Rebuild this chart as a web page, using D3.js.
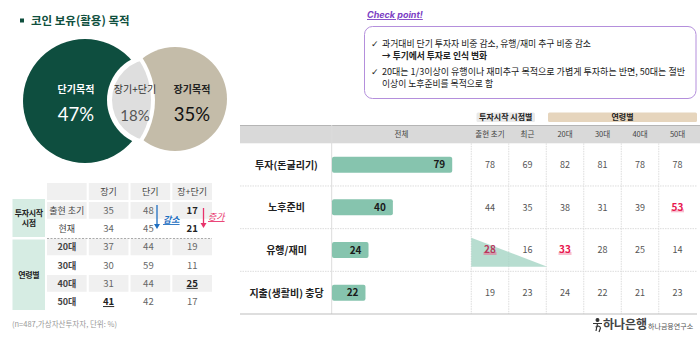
<!DOCTYPE html>
<html><head><meta charset="utf-8">
<script src="https://cdn.jsdelivr.net/npm/d3@7/dist/d3.min.js"></script>
<style>body{margin:0;background:#fff}svg{display:block;font-family:"Noto Sans CJK KR","Noto Sans",sans-serif}</style>
</head><body><svg id="c" width="700" height="339"></svg>
<script>
// ---- data ----
const vennLabels = ["단기목적", "장기+단기", "장기목적"];
const vennValues = [47, 18, 35];

const leftCols = ["장기", "단기", "장+단기"];
const leftRows = ["출현 초기", "현재", "20대", "30대", "40대", "50대"];
const leftGroups = [["투자시작", "시점"], ["연령별"]];
const longVals = [35, 34, 37, 30, 31, 41];
const shortVals = [48, 45, 44, 59, 44, 42];
const bothVals = [17, 21, 19, 11, 25, 17];

const checkTitle = "Check point!";
const checkLines = [
  "과거대비 단기 투자자 비중 감소, 유행/재미 추구 비중 감소",
  "→ 투기에서 투자로 인식 변화",
  "20대는 1/3이상이 유행이나 재미추구 목적으로 가볍게 투자하는 반면, 50대는 절반",
  "이상이 노후준비를 목적으로 함"
];

const purposes = ["투자(돈굴리기)", "노후준비", "유행/재미", "지출(생활비) 충당"];
const totalVals = [79, 40, 24, 22];
const groupHeaders = ["투자시작 시점별", "연령별"];
const colHeaders = ["출현 초기", "최근", "20대", "30대", "40대", "50대"];
const earlyVals = [78, 44, 28, 19];
const recentVals = [69, 35, 16, 23];
const age20Vals = [82, 38, 33, 24];
const age30Vals = [81, 31, 28, 22];
const age40Vals = [78, 39, 25, 21];
const age50Vals = [78, 53, 14, 23];
const footnote = "(n=487,가상자산투자자, 단위: %)";

const svg = d3.select("#c");
const defs = svg.append("defs");

// ---- title ----
svg.append("rect").attr("x", 20).attr("y", 18.5).attr("width", 4).attr("height", 4).attr("fill", "#0f4f3e");
svg.append("text").attr("x", 31).attr("y", 25).attr("font-size", 11.5).attr("font-weight", 700)
  .attr("fill", "#0f4f3e").text("코인 보유(활용) 목적");

// ---- venn ----
const gC = {cx: 85, cy: 101, r: 62};
const bC = {cx: 175, cy: 99, r: 52};
const lensA = {cx: 153, cy: 100, r: 41};
const lensB = {cx: 78, cy: 100, r: 73};
const gap = 5;
const m1 = defs.append("mask").attr("id", "mGreen");
m1.append("rect").attr("width", 700).attr("height", 339).attr("fill", "#fff");
m1.append("circle").attr("cx", lensA.cx).attr("cy", lensA.cy).attr("r", lensA.r + gap).attr("fill", "#000");
const m2 = defs.append("mask").attr("id", "mBeige");
m2.append("rect").attr("width", 700).attr("height", 339).attr("fill", "#fff");
m2.append("circle").attr("cx", lensB.cx).attr("cy", lensB.cy).attr("r", lensB.r + 4).attr("fill", "#000");
defs.append("clipPath").attr("id", "cLens").append("circle")
  .attr("cx", lensA.cx).attr("cy", lensA.cy).attr("r", lensA.r);

svg.append("circle").attr("cx", bC.cx).attr("cy", bC.cy).attr("r", bC.r).attr("fill", "#c4bca9").attr("mask", "url(#mBeige)");
svg.append("circle").attr("cx", gC.cx).attr("cy", gC.cy).attr("r", gC.r).attr("fill", "#0e4e3f").attr("mask", "url(#mGreen)");
svg.append("circle").attr("cx", lensB.cx).attr("cy", lensB.cy).attr("r", lensB.r).attr("fill", "#dedede").attr("clip-path", "url(#cLens)");

const vennPos = [{x: 76, c1: "#fff", c2: "#fff", fs: 18.5}, {x: 135, c1: "#333", c2: "#555", fs: 15}, {x: 192, c1: "#222", c2: "#111", fs: 18.5}];
vennLabels.forEach((l, i) => {
  const p = vennPos[i];
  svg.append("text").attr("x", p.x).attr("y", 93).attr("text-anchor", "middle").attr("font-size", 10)
    .attr("font-weight", i === 1 ? 400 : 700).attr("fill", p.c1).text(l);
  svg.append("text").attr("x", p.x).attr("y", 121).attr("text-anchor", "middle").attr("font-size", p.fs)
    .attr("font-family", "Lato, 'Noto Sans', sans-serif").attr("font-weight", 400).attr("fill", p.c2).text(vennValues[i] + "%");
});

// ---- left table ----
const lx = d3.scaleBand().domain(["_"].concat(leftCols)).range([47, 212]).paddingInner(0.05);
const ly = d3.scaleBand().domain(leftRows).range([202, 310]).paddingInner(0.08);
const hdrY = 183, hdrH = 17;
const grayRows = new Set(["출현 초기", "20대", "40대"]);
lx.domain().forEach(c => {
  svg.append("rect").attr("x", lx(c)).attr("y", hdrY).attr("width", lx.bandwidth()).attr("height", hdrH).attr("fill", "#f0f0f0");
  if (c !== "_") svg.append("text").attr("x", lx(c) + lx.bandwidth() / 2).attr("y", hdrY + 12).attr("text-anchor", "middle")
    .attr("font-size", 9).attr("fill", "#444").text(c);
});
leftRows.forEach((r, i) => {
  if (grayRows.has(r)) lx.domain().forEach(c => {
    svg.append("rect").attr("x", lx(c)).attr("y", ly(r)).attr("width", lx.bandwidth()).attr("height", ly.bandwidth()).attr("fill", "#f0f0f0");
  });
  const cy = ly(r) + ly.bandwidth() / 2 + 3.5;
  svg.append("text").attr("x", lx("_") + lx.bandwidth() / 2).attr("y", cy).attr("text-anchor", "middle")
    .attr("font-size", 9).attr("font-weight", i < 2 ? 400 : 700).attr("fill", "#444").text(r);
  const vals = [longVals[i], shortVals[i], bothVals[i]];
  vals.forEach((v, j) => {
    const col = leftCols[j];
    const bold = (j === 2 && (i < 2 || v === 25)) || (j === 0 && v === 41);
    const under = (j === 2 && v === 25) || (j === 0 && v === 41);
    const t = svg.append("text").attr("x", lx(col) + lx.bandwidth() / 2 - (j === 1 ? 2 : 0)).attr("y", cy).attr("text-anchor", "middle")
      .attr("font-size", 9.5).attr("font-weight", bold ? 700 : 400).attr("fill", bold ? "#222" : "#666").text(v);
    if (under) t.attr("text-decoration", "underline");
  });
});
svg.append("line").attr("x1", 47).attr("x2", 212).attr("y1", 238.5).attr("y2", 238.5)
  .attr("stroke", "#aaa").attr("stroke-dasharray", "2,1.5").attr("stroke-width", 1);
const gSpans = [[199, 237], [239.5, 310]];
leftGroups.forEach((g, i) => {
  svg.append("rect").attr("x", 12.5).attr("y", gSpans[i][0]).attr("width", 32.5).attr("height", gSpans[i][1] - gSpans[i][0]).attr("fill", "#d6ece3");
  const mid = (gSpans[i][0] + gSpans[i][1]) / 2;
  g.forEach((s, k) => {
    svg.append("text").attr("x", 28.75).attr("y", mid + 3 + (k - (g.length - 1) / 2) * 10).attr("text-anchor", "middle")
      .attr("font-size", 8).attr("letter-spacing", -0.3).attr("font-weight", 700).attr("fill", "#222").text(s);
  });
});
function arrow(x, y1, y2, color) {
  svg.append("line").attr("x1", x).attr("x2", x).attr("y1", y1).attr("y2", y2 - 4).attr("stroke", color).attr("stroke-width", 1.3);
  svg.append("path").attr("d", `M${x - 3},${y2 - 5}L${x + 3},${y2 - 5}L${x},${y2}Z`).attr("fill", color);
}
arrow(157, 205, 229, "#1f6fc1");
arrow(203.5, 208, 228, "#e8336b");
svg.append("text").attr("x", 163).attr("y", 223).attr("font-size", 9).attr("font-weight", 700).attr("font-style", "italic")
  .attr("fill", "#1f6fc1").attr("text-decoration", "underline").text("감소");
svg.append("text").attr("x", 208).attr("y", 220).attr("font-size", 9).attr("font-style", "italic")
  .attr("fill", "#e8336b").attr("text-decoration", "underline").text("증가");
svg.append("text").attr("x", 12).attr("y", 327).attr("font-size", 7.5).attr("fill", "#999").text(footnote);

// ---- check point ----
svg.append("text").attr("x", 367).attr("y", 18).attr("font-size", 9).attr("font-weight", 700).attr("font-style", "italic")
  .attr("font-family", "Inter, 'Noto Sans', sans-serif")
  .attr("fill", "#7b3fc4").attr("text-decoration", "underline").text(checkTitle);
svg.append("rect").attr("x", 364.5).attr("y", 26.5).attr("width", 331.5).attr("height", 72).attr("rx", 8)
  .attr("fill", "#fff").attr("stroke", "#b48fdc").attr("stroke-width", 1);
const cpY = [46.5, 58.5, 75, 87];
const cpW = [209, 105, 303, 111];
checkLines.forEach((s, i) => {
  if (i === 0 || i === 2) svg.append("text").attr("x", 371).attr("y", cpY[i]).attr("font-size", 9).attr("fill", "#222")
    .attr("font-family", "DejaVu Sans").text("✓");
  svg.append("text").attr("x", 382).attr("y", cpY[i]).attr("font-size", 9.5).attr("fill", "#222")
    .attr("font-weight", i === 1 ? 700 : 400).attr("textLength", cpW[i]).attr("lengthAdjust", "spacingAndGlyphs").text(s);
});

// ---- right table ----
const ry = d3.scaleBand().domain(purposes).range([143.3, 314]);
const cx = d3.scaleBand().domain(colHeaders).range([471.25, 696.25]);
const bx = d3.scaleLinear().domain([0, 92]).range([332, 472]);
svg.append("rect").attr("x", 476.5).attr("y", 112.5).attr("width", 58.5).attr("height", 9.5).attr("rx", 1.5).attr("fill", "#e9e9e9");
svg.append("text").attr("x", 505.75).attr("y", 120.3).attr("text-anchor", "middle").attr("font-size", 8).attr("font-weight", 700).attr("fill", "#222").text(groupHeaders[0]);
svg.append("rect").attr("x", 548).attr("y", 112.5).attr("width", 149).attr("height", 9.5).attr("rx", 1.5).attr("fill", "#e6d5bd");
svg.append("text").attr("x", 622.5).attr("y", 120.3).attr("text-anchor", "middle").attr("font-size", 8).attr("font-weight", 700).attr("fill", "#222").text(groupHeaders[1]);
svg.append("rect").attr("x", 240).attr("y", 125).attr("width", 460).attr("height", 18.3).attr("fill", "#d9d9d9");
svg.append("line").attr("x1", 240).attr("x2", 700).attr("y1", 125.5).attr("y2", 125.5).attr("stroke", "#b5b5b5");
svg.append("text").attr("x", 401.5).attr("y", 137).attr("text-anchor", "middle").attr("font-size", 7.5).attr("fill", "#444").text("전체");
colHeaders.forEach(c => {
  svg.append("text").attr("x", cx(c) + cx.bandwidth() / 2).attr("y", 137).attr("text-anchor", "middle")
    .attr("font-size", 7.5).attr("fill", "#444").text(c);
});
purposes.slice(1).forEach(p => {
  svg.append("line").attr("x1", 240).attr("x2", 697).attr("y1", ry(p)).attr("y2", ry(p))
    .attr("stroke", "#ddd").attr("stroke-dasharray", "1.5,1");
});
svg.append("line").attr("x1", 331.7).attr("x2", 331.7).attr("y1", 125).attr("y2", 314).attr("stroke", "#dcdcdc");
colHeaders.forEach(c => {
  svg.append("line").attr("x1", cx(c)).attr("x2", cx(c)).attr("y1", 143.3).attr("y2", 314)
    .attr("stroke", "#dcdcdc").attr("stroke-dasharray", "1.5,1");
});
svg.append("line").attr("x1", 240).attr("x2", 697).attr("y1", 314).attr("y2", 314).attr("stroke", "#bdbdbd").attr("stroke-width", 1.2);
const rT = ry("유행/재미");
svg.append("path").attr("d", `M${cx("출현 초기")},${rT + 9} L${cx("출현 초기")},${rT + 38} L${cx("20대") + 1},${rT + 38} Z`)
  .attr("fill", "#9fd2c0").attr("opacity", 0.75);
purposes.forEach((p, i) => {
  const cyy = ry(p) + ry.bandwidth() / 2;
  svg.append("text").attr("x", 286.5).attr("y", cyy + 4).attr("text-anchor", "middle").attr("font-size", 10)
    .attr("font-weight", 700).attr("fill", "#222").text(p);
  svg.append("rect").attr("x", bx(0)).attr("y", cyy - 8).attr("width", bx(totalVals[i]) - bx(0)).attr("height", 16)
    .attr("rx", 2).attr("fill", "#86c4ae");
  svg.append("text").attr("x", bx(totalVals[i]) - 7).attr("y", cyy + 3.8).attr("text-anchor", "end").attr("font-size", 10)
    .attr("font-weight", 700).attr("fill", "#1a1a1a").text(totalVals[i]);
  const vals = [earlyVals[i], recentVals[i], age20Vals[i], age30Vals[i], age40Vals[i], age50Vals[i]];
  vals.forEach((v, j) => {
    const x = cx(colHeaders[j]) + cx.bandwidth() / 2;
    const hl = (i === 1 && j === 5) || (i === 2 && (j === 0 || j === 2));
    if (hl) {
      svg.append("rect").attr("x", x - 6.5).attr("y", cyy + 2).attr("width", 13).attr("height", 3)
        .attr("fill", j === 0 ? "#d98aa2" : "#f6aec2").attr("opacity", 0.8);
    }
    svg.append("text").attr("x", x).attr("y", cyy + 3.5).attr("text-anchor", "middle")
      .attr("font-size", hl ? 10 : 9).attr("font-weight", hl ? 700 : 400)
      .attr("fill", hl ? (j === 0 ? "#b8365c" : "#e8174f") : "#555").text(v);
  });
});

// ---- logo ----
const lg = svg.append("g").attr("stroke", "#333").attr("fill", "none").attr("stroke-width", 1.2);
lg.append("circle").attr("cx", 597.5).attr("cy", 320).attr("r", 1.4).attr("fill", "#333");
lg.append("path").attr("d", "M593,323.5 L602,323.5 M597.5,323.5 L596,331 M595.5,327 Q600,325 600.5,328 L599,332");
svg.append("text").attr("x", 603).attr("y", 328.5).attr("font-size", 12).attr("font-weight", 700).attr("fill", "#444").text("하나은행");
svg.append("text").attr("x", 648).attr("y", 328.5).attr("font-size", 7).attr("fill", "#555").text("하나금융연구소");
</script></body></html>
